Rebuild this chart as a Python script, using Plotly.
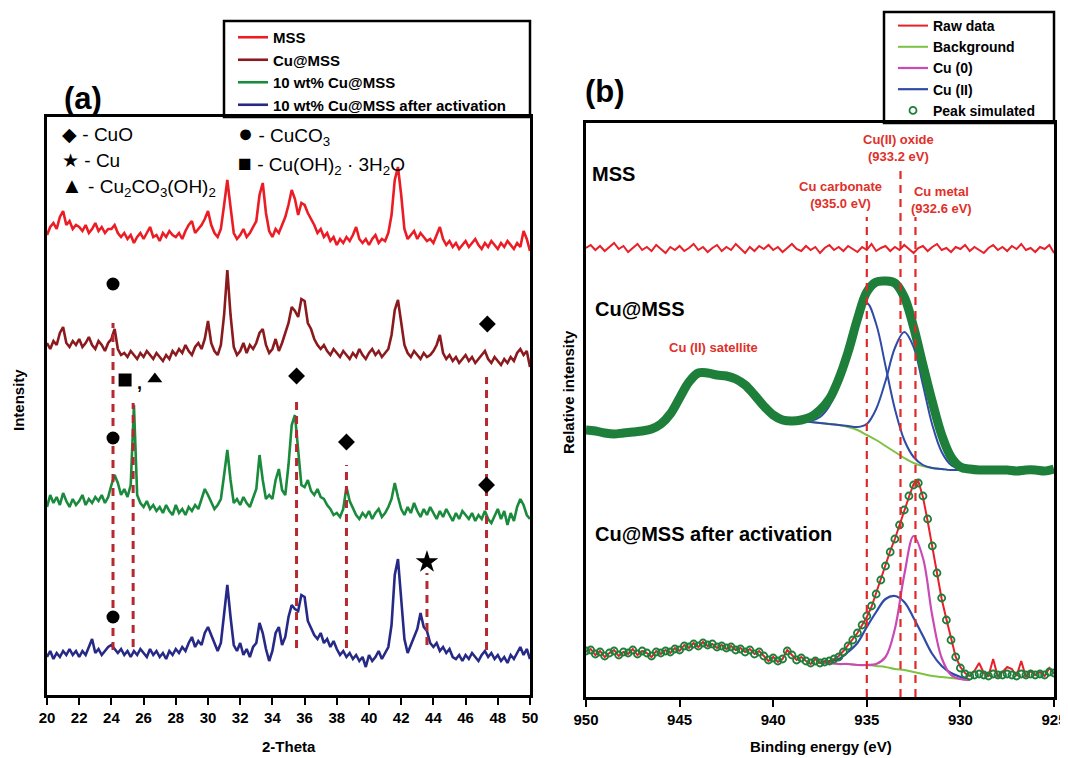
import numpy as np
import plotly.graph_objects as go

FONT = "Arial, 'Liberation Sans', sans-serif"
W, H = 1060, 750       # page body margin (8 px) is added by the browser
OFF = 8

# ---------------- (a) XRD data: 2-theta 20..50, step 0.2 ----------------
xrd_start, xrd_end = 20.0, 50.0
xrd_mss = [460, 468, 472, 466, 478, 484, 470, 474, 466, 470,
           468, 464, 470, 462, 466, 472, 464, 468, 462, 466,
           466, 470, 462, 458, 462, 456, 460, 452, 458, 462,
           456, 462, 468, 458, 460, 454, 462, 458, 464, 460,
           458, 462, 456, 464, 470, 474, 462, 466, 470, 476,
           484, 470, 462, 458, 466, 490, 515, 488, 462, 456,
           460, 466, 458, 462, 468, 474, 500, 512, 482, 464,
           458, 466, 462, 470, 478, 490, 505, 496, 480, 492,
           490, 482, 476, 470, 462, 466, 458, 462, 454, 458,
           450, 456, 452, 458, 454, 460, 468, 456, 452, 456,
           450, 456, 460, 452, 456, 454, 462, 480, 515, 528,
           500, 466, 456, 460, 464, 456, 462, 458, 454, 456,
           452, 460, 468, 456, 450, 454, 448, 452, 446, 450,
           454, 448, 452, 456, 450, 446, 452, 448, 454, 450,
           446, 452, 448, 454, 450, 446, 452, 448, 464, 456,
           444]
xrd_cu_mss = [352, 346, 354, 350, 362, 368, 352, 348, 354, 350,
              356, 348, 352, 358, 350, 346, 354, 350, 344, 352,
              356, 366, 346, 340, 342, 338, 344, 340, 336, 342,
              338, 344, 340, 336, 342, 338, 334, 340, 336, 344,
              340, 346, 342, 350, 344, 340, 348, 352, 346, 356,
              374, 352, 344, 340, 350, 380, 425, 380, 348, 340,
              344, 352, 342, 350, 346, 352, 362, 366, 350, 342,
              346, 356, 344, 352, 362, 372, 388, 384, 378, 396,
              394, 372, 366, 356, 350, 346, 350, 344, 340, 346,
              342, 338, 344, 340, 336, 342, 338, 346, 340, 336,
              342, 346, 340, 344, 338, 342, 346, 360, 385, 395,
              372, 350, 342, 338, 344, 340, 336, 342, 338, 340,
              344, 350, 360, 342, 336, 340, 334, 338, 332, 336,
              340, 334, 338, 332, 336, 340, 344, 336, 332, 338,
              334, 330, 336, 332, 338, 334, 342, 346, 340, 344,
              328]
xrd_cu10 = [188, 200, 192, 198, 190, 202, 194, 188, 196, 190,
            194, 200, 190, 196, 192, 198, 194, 200, 192, 198,
            210, 220, 212, 200, 206, 198, 210, 290, 200, 192,
            188, 194, 186, 190, 184, 188, 182, 190, 184, 180,
            190, 182, 186, 180, 188, 184, 190, 186, 196, 206,
            200, 192, 186, 190, 196, 220, 245, 215, 192, 196,
            190, 198, 192, 188, 196, 206, 240, 215, 196, 200,
            196, 215, 226, 205, 200, 230, 270, 280, 245, 210,
            208, 215, 204, 200, 206, 198, 196, 190, 186, 180,
            182, 178, 186, 208, 194, 186, 180, 176, 182, 178,
            184, 176, 182, 186, 178, 182, 188, 196, 212, 198,
            186, 180, 188, 182, 192, 184, 178, 186, 180, 188,
            182, 176, 184, 178, 186, 180, 174, 182, 176, 184,
            180, 176, 182, 174, 180, 176, 184, 176, 172, 180,
            186, 176, 184, 170, 182, 174, 188, 196, 190, 180,
            176]
xrd_cu10_act = [38, 44, 36, 42, 38, 44, 40, 46, 40, 44,
                38, 44, 40, 48, 56, 42, 46, 40, 44, 48,
                50, 46, 42, 46, 40, 44, 38, 44, 40, 46,
                42, 38, 46, 40, 44, 38, 42, 36, 44, 40,
                46, 42, 48, 44, 52, 58, 48, 54, 50, 62,
                68, 60, 50, 44, 52, 80, 110, 78, 50, 44,
                52, 40, 46, 38, 48, 52, 72, 62, 46, 34,
                44, 62, 68, 50, 58, 78, 90, 86, 84, 100,
                98, 74, 66, 60, 56, 62, 52, 56, 48, 54,
                46, 40, 44, 38, 42, 36, 40, 34, 38, 28,
                40, 34, 38, 44, 36, 42, 48, 70, 120, 136,
                100, 56, 42, 50, 58, 66, 82, 68, 64, 52,
                48, 52, 44, 48, 42, 46, 38, 36, 40, 34,
                40, 36, 42, 38, 34, 40, 44, 38, 42, 36,
                40, 34, 38, 32, 40, 36, 42, 48, 40, 46,
                36]
xrd_names = ["MSS", "Cu@MSS", "10 wt% Cu@MSS", "10 wt% Cu@MSS after activation"]
xrd_colors = ["#ec1c24", "#8b1a1e", "#1a8a3c", "#262a86"]

# reference (phase) lines in (a)
ref_a_x = [24.1, 25.35, 35.5, 38.6, 43.6, 47.3]
ref_a_top = [372, 292, 297, 230, 122, 318]
ref_a_bottom = [45, 48, 47, 47, 50, 45]

# phase markers in (a)
phase_x = [24.1, 47.35, 24.85, 26.7, 35.5, 24.1, 38.6, 47.3, 43.6, 24.1]
phase_y = [411, 371, 315, 316, 319, 257, 253, 210, 133, 78]
phase_sym = ["circle", "diamond", "square", "triangle-up", "diamond",
             "circle", "diamond", "diamond", "star", "circle"]

# ---------------- (b) XPS data ----------------
e_fine_start, e_fine_end = 950.0, 925.0   # step 0.25
xps_mss_raw = [449, 452, 447, 451, 446, 450, 454, 448, 451, 445,
               449, 453, 447, 450, 446, 452, 448, 444, 450, 447,
               451, 446, 449, 453, 447, 450, 445, 449, 452, 446,
               450, 447, 453, 448, 444, 450, 446, 451, 448, 452,
               447, 450, 445, 449, 453, 448, 446, 451, 447, 450,
               444, 449, 452, 447, 450, 446, 451, 448, 445, 450,
               447, 453, 446, 449, 451, 446, 450, 447, 452, 448,
               444, 449, 451, 446, 450, 453, 447, 449, 445, 450,
               448, 452, 446, 450, 447, 444, 449, 452, 447, 450,
               446, 451, 448, 453, 447, 449, 445, 450, 448, 452,
               444]
xps_act_raw = [45, 48, 42, 46, 40, 44, 47, 41, 45, 43,
               48, 42, 46, 44, 40, 46, 43, 47, 44, 49,
               46, 52, 49, 54, 50, 55, 51, 53, 49, 52,
               48, 51, 47, 49, 45, 48, 43, 46, 41, 36,
               40, 35, 38, 47, 42, 37, 40, 36, 33, 38,
               34, 36, 35, 38, 41, 46, 52, 58, 64, 72,
               80, 90, 104, 120, 134, 146, 158, 171, 186, 200,
               213, 216, 200, 176, 150, 122, 98, 78, 58, 40,
               30, 24, 21, 26, 34, 24, 21, 38, 20, 25,
               30, 28, 21, 36, 20, 26, 22, 25, 21, 29,
               23]
xps_act_sim = [46, 47, 43, 45, 41, 44, 46, 42, 45, 44,
               47, 43, 46, 44, 41, 45, 44, 46, 45, 48,
               47, 51, 50, 53, 51, 54, 52, 53, 50, 51,
               49, 50, 47, 48, 45, 47, 43, 45, 41, 37,
               39, 36, 38, 46, 42, 37, 39, 36, 34, 36,
               34, 35, 36, 38, 40, 45, 51, 57, 64, 72,
               81, 91, 103, 117, 131, 145, 158, 172, 187, 201,
               212, 214, 201, 178, 151, 124, 99, 77, 57, 40,
               29, 23, 21, 22, 23, 22, 21, 23, 22, 22,
               23, 22, 21, 23, 22, 23, 22, 23, 22, 25,
               24]
e_mid_start, e_mid_end = 950.0, 925.0     # step 0.5
xps_cumss_sim = [267, 266, 264, 263, 264, 265, 266, 268, 273, 283,
                 299, 315, 324, 324, 322, 321, 318, 312, 302, 291,
                 282, 277, 276, 277, 280, 287, 298, 318, 345, 378,
                 405, 415, 416, 414, 400, 370, 332, 295, 262, 240,
                 230, 228, 227, 227, 227, 227, 226, 227, 227, 226,
                 228]
e_fit1_start, e_fit1_end = 938.5, 929.5   # step 0.5
xps_cumss_bg = [276, 275, 274, 273, 272, 270, 267, 262, 257, 251,
                245, 239, 234, 231, 229, 228, 227, 227, 227]
xps_cumss_cu2a = [276, 276, 280, 291, 315, 350, 383, 394, 373, 331,
                  288, 257, 240, 232, 229, 228, 227, 227, 227]
xps_cumss_cu2b = [276, 275, 274, 273, 272, 271, 270, 273, 288, 316,
                  349, 365, 350, 312, 272, 245, 232, 228, 227]
e_fit2_start, e_fit2_end = 937.5, 929.5   # step 0.5
xps_act_bg = [34, 34, 33, 33, 32, 32, 31, 30, 28, 27, 25, 23, 21, 20, 19, 18, 17]
xps_act_cu0 = [34, 34, 33, 33, 32, 32, 33, 40, 68, 122, 161, 139, 81, 39, 22, 18, 17]
xps_act_cu2 = [34, 36, 38, 45, 54, 70, 85, 98, 101, 95, 79, 61, 43, 31, 24, 20, 17]

ref_b_x = [935.0, 933.2, 932.4]
ref_b_top = [480, 529, 480]
ref_b_bottom = [0, 0, 0]

C_RAW, C_BG, C_CU0, C_CU2, C_SIM = "#e8202a", "#7cc243", "#c94ab4", "#2f4aa8", "#1d7f3a"


def grid(a, b, vals):
    return np.linspace(a, b, len(vals))


def px_x(p):
    return (p - OFF) / W


def px_y(p):
    return 1 - (p - OFF) / H


fig = go.Figure()

# ---- panel (a) traces ----
for vals, name, col, rank in zip([xrd_mss, xrd_cu_mss, xrd_cu10, xrd_cu10_act],
                                 xrd_names, xrd_colors, [1, 2, 3, 4]):
    fig.add_trace(go.Scatter(x=grid(xrd_start, xrd_end, vals), y=vals, mode="lines",
                             name=name, line=dict(color=col, width=2.6),
                             xaxis="x", yaxis="y", legend="legend", legendrank=rank))
for xv, t, b in zip(ref_a_x, ref_a_top, ref_a_bottom):
    fig.add_trace(go.Scatter(x=[xv, xv], y=[b, t], mode="lines", showlegend=False,
                             line=dict(color="#b52a30", width=3, dash="8px,6px"),
                             xaxis="x", yaxis="y", hoverinfo="skip"))
for xv, yv, s in zip(phase_x, phase_y, phase_sym):
    fig.add_trace(go.Scatter(x=[xv], y=[yv], mode="markers", showlegend=False,
                             marker=dict(symbol=s, color="black", size=17 if s == "star" else 13,
                                         line=dict(width=0)),
                             xaxis="x", yaxis="y", hoverinfo="skip"))

# ---- panel (b) traces ----
fig.add_trace(go.Scatter(x=grid(e_fine_start, e_fine_end, xps_mss_raw), y=xps_mss_raw, mode="lines",
                         showlegend=False, line=dict(color=C_RAW, width=2), xaxis="x2", yaxis="y2"))
fig.add_trace(go.Scatter(x=grid(e_fit1_start, e_fit1_end, xps_cumss_bg), y=xps_cumss_bg, mode="lines",
                         showlegend=False, line=dict(color=C_BG, width=2, shape="spline"), xaxis="x2", yaxis="y2"))
for comp in (xps_cumss_cu2a, xps_cumss_cu2b):
    fig.add_trace(go.Scatter(x=grid(e_fit1_start, e_fit1_end, comp), y=comp, mode="lines",
                             showlegend=False, line=dict(color=C_CU2, width=2, shape="spline"),
                             xaxis="x2", yaxis="y2"))
fig.add_trace(go.Scatter(x=grid(e_mid_start, e_mid_end, xps_cumss_sim), y=xps_cumss_sim, mode="lines",
                         showlegend=False, line=dict(color=C_SIM, width=9, shape="spline"),
                         xaxis="x2", yaxis="y2"))

fig.add_trace(go.Scatter(x=grid(e_fit2_start, e_fit2_end, xps_act_bg), y=xps_act_bg, mode="lines",
                         name="Background", line=dict(color=C_BG, width=2, shape="spline"),
                         xaxis="x2", yaxis="y2", legend="legend2", legendrank=2))
fig.add_trace(go.Scatter(x=grid(e_fit2_start, e_fit2_end, xps_act_cu2), y=xps_act_cu2, mode="lines",
                         name="Cu (II)", line=dict(color=C_CU2, width=2.2, shape="spline"),
                         xaxis="x2", yaxis="y2", legend="legend2", legendrank=4))
fig.add_trace(go.Scatter(x=grid(e_fit2_start, e_fit2_end, xps_act_cu0), y=xps_act_cu0, mode="lines",
                         name="Cu (0)", line=dict(color=C_CU0, width=2.2, shape="spline"),
                         xaxis="x2", yaxis="y2", legend="legend2", legendrank=3))
fig.add_trace(go.Scatter(x=grid(e_fine_start, e_fine_end, xps_act_raw), y=xps_act_raw, mode="lines",
                         name="Raw data", line=dict(color=C_RAW, width=2),
                         xaxis="x2", yaxis="y2", legend="legend2", legendrank=1))
fig.add_trace(go.Scatter(x=grid(e_fine_start, e_fine_end, xps_act_sim), y=xps_act_sim, mode="markers",
                         name="Peak simulated",
                         marker=dict(symbol="circle-open", color=C_SIM, size=7, line=dict(width=1.8, color=C_SIM)),
                         xaxis="x2", yaxis="y2", legend="legend2", legendrank=5))
for xv, t, b in zip(ref_b_x, ref_b_top, ref_b_bottom):
    fig.add_trace(go.Scatter(x=[xv, xv], y=[b, t], mode="lines", showlegend=False,
                             line=dict(color="#e02a2a", width=2.2, dash="8px,6px"),
                             xaxis="x2", yaxis="y2", hoverinfo="skip"))

# ---- axes ----
axis_common = dict(showline=True, linewidth=2.5, linecolor="black", mirror=True,
                   showgrid=False, zeroline=False, automargin=False)
fig.update_layout(
    xaxis=dict(domain=[px_x(47), px_x(530)], range=[xrd_start, xrd_end],
               tickvals=list(range(20, 51, 2)), ticks="outside", ticklen=7, tickwidth=2,
               tickcolor="black", tickfont=dict(family=FONT, size=15, color="black", weight="bold"),
               ticklabeloverflow="allow", anchor="y", **axis_common),
    yaxis=dict(domain=[px_y(695), px_y(117)], range=[0, 578], showticklabels=False,
               ticks="", anchor="x", **axis_common),
    xaxis2=dict(domain=[px_x(586), px_x(1054)], range=[950, 925],
                tickvals=[950, 945, 940, 935, 930, 925], ticks="outside", ticklen=7, tickwidth=2,
                tickcolor="black", tickfont=dict(family=FONT, size=15, color="black", weight="bold"),
                ticklabeloverflow="allow", anchor="y2", **axis_common),
    yaxis2=dict(domain=[px_y(697), px_y(123)], range=[0, 574], showticklabels=False,
                ticks="", anchor="x2", **axis_common),
)

# ---- legends ----
fig.update_layout(
    legend=dict(x=px_x(233), y=px_y(21), xanchor="left", yanchor="top", bgcolor="rgba(0,0,0,0)",
                borderwidth=0, font=dict(family=FONT, size=15, color="black", weight="bold"),
                tracegroupgap=0, itemwidth=30),
    legend2=dict(x=px_x(893), y=px_y(10), xanchor="left", yanchor="top", bgcolor="rgba(0,0,0,0)",
                 borderwidth=0, font=dict(family=FONT, size=14, color="black", weight="bold"),
                 tracegroupgap=0, itemwidth=30),
    shapes=[
        dict(type="rect", xref="paper", yref="paper", x0=px_x(224), x1=px_x(530), y0=px_y(117), y1=px_y(21),
             line=dict(color="black", width=2.5)),
        dict(type="rect", xref="paper", yref="paper", x0=px_x(884), x1=px_x(1054), y0=px_y(123), y1=px_y(12),
             line=dict(color="black", width=2.5)),
    ],
)

# ---- text annotations ----
ann = []


def add_text(text, x, y, size, xanchor="left", color="black", bold=True, angle=0, xref="paper", yref="paper"):
    ann.append(dict(text=text, x=x, y=y, xref=xref, yref=yref, xanchor=xanchor, yanchor="middle",
                    showarrow=False, textangle=angle,
                    font=dict(family=FONT, size=size, color=color, weight="bold" if bold else "normal")))


def big(sym, size=24):
    return '<span style="font-size:%dpx">%s</span>' % (size, sym)


add_text("(a)", px_x(62), px_y(99), 31)
add_text("(b)", px_x(583), px_y(91), 31)
add_text("◆ - CuO", px_x(60), px_y(134), 19, bold=False)
add_text("★ - Cu", px_x(60), px_y(160), 19, bold=False)
add_text(big("▲", 22) + " - Cu<sub>2</sub>CO<sub>3</sub>(OH)<sub>2</sub>", px_x(59), px_y(186), 19, bold=False)
add_text(big("●", 25) + " - CuCO<sub>3</sub>", px_x(236), px_y(134), 19, bold=False)
add_text(big("■", 23) + " - Cu(OH)<sub>2</sub> · 3H<sub>2</sub>O", px_x(236), px_y(164), 19, bold=False)
add_text(",", 25.75, 312, 18, xanchor="center", xref="x", yref="y")
add_text("Intensity", px_x(19), px_y(400), 15, xanchor="center", angle=-90)
add_text("2-Theta", px_x(289), px_y(746), 15, xanchor="center")
add_text("Relative intensity", px_x(568), px_y(392), 15, xanchor="center", angle=-90)
add_text("Binding energy (eV)", px_x(821), px_y(746), 15, xanchor="center")
add_text("MSS", 949.8, 523, 20, xref="x2", yref="y2")
add_text("Cu@MSS", 949.6, 388, 20, xref="x2", yref="y2")
add_text("Cu@MSS after activation", 949.6, 163, 20, xref="x2", yref="y2")
RC = "#e0302a"
add_text("Cu (II) satellite", 943.2, 350, 13, xanchor="center", color=RC, xref="x2", yref="y2")
add_text("Cu(II) oxide<br>(933.2 eV)", 933.3, 549, 13, xanchor="center", color=RC, xref="x2", yref="y2")
add_text("Cu carbonate<br>(935.0 eV)", 936.4, 502, 13, xanchor="center", color=RC, xref="x2", yref="y2")
add_text("Cu metal<br>(932.6 eV)", 931.0, 497, 13, xanchor="center", color=RC, xref="x2", yref="y2")

fig.update_layout(annotations=ann, width=W, height=H, margin=dict(l=0, r=0, t=0, b=0),
                  paper_bgcolor="white", plot_bgcolor="white", showlegend=True,
                  font=dict(family=FONT, color="black"))

fig.write_html("out.html")
